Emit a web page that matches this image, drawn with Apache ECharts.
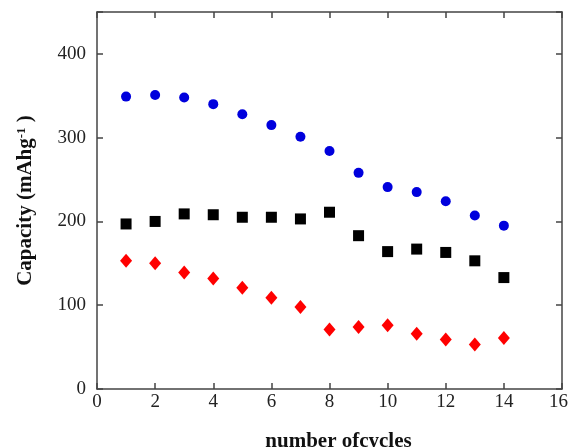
<!DOCTYPE html>
<html><head><meta charset="utf-8">
<script src="https://cdn.jsdelivr.net/npm/echarts@6/dist/echarts.min.js"></script>
<style>html,body{margin:0;padding:0;background:#fff}#c{width:569px;height:447px}</style>
</head><body><div id="c"></div>
<script>
var cycles = [1,2,3,4,5,6,7,8,9,10,11,12,13,14];
var blueCircles = [349,351,348,340,328,315,301,284,258,241,235,224,207,195];
var blackSquares = [197,200,209,208,205,205,203,211,183,164,167,163,153,133];
var redDiamonds = [153,150,139,132,121,109,98,71,74,76,66,59,53,61];
var xTicks = [0,2,4,6,8,10,12,14,16];
var yTicks = [0,100,200,300,400];

function pairs(vals){ return cycles.map(function(c,i){ return [c, vals[i]]; }); }
var serif = '"Liberation Serif","DejaVu Serif",serif';
var axisLineStyle = {color:'#444', width:1.5};
var chart = echarts.init(document.getElementById('c'));
chart.setOption({
  animation:false,
  grid:{left:97,right:7,top:12,bottom:58, containLabel:false, outerBoundsMode:'none'},
  xAxis:[{
    type:'value', min:0, max:16, interval:2,
    name:'number ofcycles', nameLocation:'middle', nameGap:42,
    nameTextStyle:{fontFamily:serif, fontWeight:'bold', fontSize:21, color:'#111', padding:[0,0,0,18]},
    axisLine:{show:true, onZero:false, lineStyle:axisLineStyle},
    axisTick:{show:true, inside:true, length:6, lineStyle:axisLineStyle},
    axisLabel:{fontFamily:serif, fontSize:19, color:'#222', margin:4,
      rich:{r:{fontFamily:serif, fontSize:19, color:'#222', padding:[0,7,0,0]}},
      formatter:function(v){
        if (xTicks.indexOf(v) < 0) return '';
        return v === xTicks[xTicks.length-1] ? '{r|' + v + '}' : String(v);
      }},
    splitLine:{show:false}
  },{
    type:'value', position:'top', min:0, max:16, interval:2,
    axisLine:{show:true, onZero:false, lineStyle:axisLineStyle},
    axisTick:{show:true, inside:true, length:6, lineStyle:axisLineStyle},
    axisLabel:{show:false}, splitLine:{show:false}
  }],
  yAxis:[{
    type:'value', min:0, max:450, interval:100,
    name:'{a|Capacity (mAhg}{s|-1}{a| )}', nameLocation:'middle', nameGap:60,
    nameTextStyle:{rich:{
      a:{fontFamily:serif, fontWeight:'bold', fontSize:21, color:'#111'},
      s:{fontFamily:serif, fontWeight:'bold', fontSize:13, color:'#111', verticalAlign:'top', padding:[0,0,9,0]}
    }},
    axisLine:{show:true, onZero:false, lineStyle:axisLineStyle},
    axisTick:{show:true, inside:true, length:6, lineStyle:axisLineStyle},
    axisLabel:{fontFamily:serif, fontSize:19, color:'#222', margin:11,
      formatter:function(v){ return yTicks.indexOf(v)>=0 ? String(v) : ''; }},
    splitLine:{show:false}
  },{
    type:'value', position:'right', min:0, max:450, interval:100,
    axisLine:{show:true, onZero:false, lineStyle:axisLineStyle},
    axisTick:{show:true, inside:true, length:6, lineStyle:axisLineStyle},
    axisLabel:{show:false}, splitLine:{show:false}
  }],
  series:[
    {type:'scatter', data:pairs(blueCircles), symbol:'circle', symbolSize:10, itemStyle:{color:'#0000dd', opacity:1}},
    {type:'scatter', data:pairs(blackSquares), symbol:'rect', symbolSize:11, itemStyle:{color:'#000', opacity:1}},
    {type:'scatter', data:pairs(redDiamonds), symbol:'diamond', symbolSize:[12,14], itemStyle:{color:'#ff0000', opacity:1}}
  ]
});
</script></body></html>
